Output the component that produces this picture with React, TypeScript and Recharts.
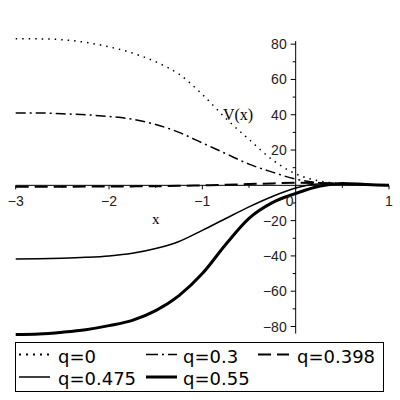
import { LineChart, Line, XAxis, YAxis, ReferenceLine, ReferenceDot } from 'recharts';

const xs = [-3, -2.75, -2.5, -2.25, -2, -1.75, -1.5, -1.25, -1, -0.75, -0.5, -0.25, 0, 0.25, 0.5, 0.75, 1];
const q0 = [83, 83, 82.5, 81, 78.5, 75, 70, 63, 51.5, 38, 26, 14.5, 6.5, 2.5, 1, 0.4, 0];
const q03 = [41, 41, 40.5, 40, 39, 37.5, 34.5, 30, 24, 18, 12, 7.5, 3.5, 1.5, 0.8, 0.3, 0];
const q0398 = [-0.8, -0.8, -0.8, -0.7, -0.7, -0.6, -0.5, -0.3, 0, 0.3, 0.7, 1.1, 1.5, 1.3, 0.8, 0.4, 0];
const q0475 = [-41.7, -41.6, -41.3, -40.8, -40, -38.5, -35.8, -31.8, -25.5, -18.8, -12.2, -6.3, -1.5, 0.8, 0.9, 0.4, 0];
const q055 = [-84.5, -84.2, -83.2, -81.8, -79.5, -76.5, -71, -62.5, -50, -33.5, -18.7, -9.8, -4.6, -0.5, 1, 0.5, 0];

const xTicks = [-3, -2, -1, 0, 1];
const xMinor = [-2.5, -1.5, -0.5, 0.5];
const yTicks = [80, 60, 40, 20, -20, -40, -60, -80];
const yMinor = [70, 50, 30, 10, -10, -30, -50, -70];

const data = xs.map((x, i) => ({
  x,
  q0: q0[i],
  q03: q03[i],
  q0398: q0398[i],
  q0475: q0475[i],
  q055: q055[i],
}));

const series = [
  { key: 'q0', name: 'q=0', width: 1.5, dash: '1.5 5' },
  { key: 'q03', name: 'q=0.3', width: 1.5, dash: '10 4 2 4' },
  { key: 'q0398', name: 'q=0.398', width: 2, dash: '13 6' },
  { key: 'q0475', name: 'q=0.475', width: 1.5, dash: undefined },
  { key: 'q055', name: 'q=0.55', width: 3, dash: undefined },
];

// legend slots: [sampleStart, textStart, row]
const legendPos = [
  [19, 58, 0],
  [146, 183, 0],
  [258, 297, 0],
  [19, 58, 1],
  [146, 183, 1],
];

const tickFont = { fontFamily: '"Liberation Sans", Arial, sans-serif', fontSize: 14, fill: '#222' };
const fmt = (v: number) => (v < 0 ? '\u2212' + Math.abs(v) : String(v));

export default function App() {
  return (
    <div style={{ position: 'absolute', left: 0, top: 0, width: 400, height: 400, background: '#fff' }}>
      <LineChart width={400} height={340} data={data} margin={{ top: 37.1, right: 11, bottom: 2.9, left: 15.7 }}>
        <XAxis type="number" dataKey="x" domain={[-3, 1]} hide />
        <YAxis type="number" domain={[-86, 84]} hide />
        <ReferenceLine y={0} stroke="#000" strokeWidth={1} />
        <ReferenceLine segment={[{ x: 0, y: -84 }, { x: 0, y: 81.8 }]} stroke="#000" strokeWidth={1} />
        {xTicks.map((t) => (
          <ReferenceDot
            key={'xt' + t}
            x={t}
            y={0}
            r={0}
            shape={(p: any) => (
              <g>
                <line x1={p.cx} y1={p.cy} x2={p.cx} y2={p.cy + 4} stroke="#000" />
                <text x={p.cx + (t === 0 ? -6 : 0)} y={p.cy + 20.5} textAnchor="middle" {...tickFont}>
                  {fmt(t)}
                </text>
              </g>
            )}
          />
        ))}
        {xMinor.map((t) => (
          <ReferenceDot
            key={'xm' + t}
            x={t}
            y={0}
            r={0}
            shape={(p: any) => <line x1={p.cx} y1={p.cy} x2={p.cx} y2={p.cy + 2.5} stroke="#000" />}
          />
        ))}
        {yTicks.map((t) => (
          <ReferenceDot
            key={'yt' + t}
            x={0}
            y={t}
            r={0}
            shape={(p: any) => (
              <g>
                <line x1={p.cx - 5} y1={p.cy} x2={p.cx} y2={p.cy} stroke="#000" />
                <text x={p.cx - 9} y={p.cy + 5} textAnchor="end" {...tickFont}>
                  {fmt(t)}
                </text>
              </g>
            )}
          />
        ))}
        {yMinor.map((t) => (
          <ReferenceDot
            key={'ym' + t}
            x={0}
            y={t}
            r={0}
            shape={(p: any) => <line x1={p.cx - 3} y1={p.cy} x2={p.cx} y2={p.cy} stroke="#000" />}
          />
        ))}
        <ReferenceDot
          x={-0.78}
          y={37}
          r={0}
          shape={(p: any) => (
            <text x={p.cx} y={p.cy} fontFamily='"Liberation Serif", serif' fontSize={16} fill="#000">
              V(x)
            </text>
          )}
        />
        <ReferenceDot
          x={-1.54}
          y={-21.9}
          r={0}
          shape={(p: any) => (
            <text x={p.cx} y={p.cy} fontFamily='"Liberation Serif", serif' fontSize={15} fill="#000">
              x
            </text>
          )}
        />
        {series.map((s) => (
          <Line
            key={s.key}
            type="monotone"
            dataKey={s.key}
            stroke="#000"
            strokeWidth={s.width}
            strokeDasharray={s.dash}
            dot={false}
            isAnimationActive={false}
          />
        ))}
      </LineChart>
      <svg width={400} height={64} style={{ position: 'absolute', left: 0, top: 336 }}>
        <rect x={15.5} y={6.5} width={368} height={49} fill="none" stroke="#000" strokeWidth={1} />
        {series.map((s, i) => {
          const [sx, tx, row] = legendPos[i];
          const ly = 18.5 + row * 22.5;
          return (
            <g key={s.key}>
              <line
                x1={sx}
                y1={ly}
                x2={sx + 31}
                y2={ly}
                stroke="#000"
                strokeWidth={s.key === 'q0' ? 2 : s.width}
                strokeDasharray={s.key === 'q0' ? '2 5' : s.key === 'q03' ? '12 4 2 4' : s.dash}
              />
              <text x={tx} y={ly + 8} fontFamily='"DejaVu Sans", Verdana, sans-serif' fontSize={18} fill="#000">
                {s.name}
              </text>
            </g>
          );
        })}
      </svg>
    </div>
  );
}
